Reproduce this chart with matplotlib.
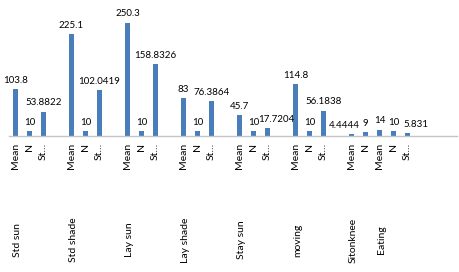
import matplotlib
matplotlib.use("Agg")
import matplotlib.pyplot as plt
import matplotlib.transforms as mtransforms

# ---- data ----
groups = ["Std sun", "Std shade", "Lay sun", "Lay shade", "Stay sun", "moving", "Sitonknee", "Eating"]
group_start = [0, 4, 8, 12, 16, 20, 24, 26]

categories = ["Mean", "N", "St…", "",
              "Mean", "N", "St…", "",
              "Mean", "N", "St…", "",
              "Mean", "N", "St…", "",
              "Mean", "N", "St…", "",
              "Mean", "N", "St…", "",
              "Mean", "N",
              "Mean", "N", "St…", "", "", ""]
values = [103.8, 10, 53.8822, None,
          225.1, 10, 102.0419, None,
          250.3, 10, 158.8326, None,
          83, 10, 76.3864, None,
          45.7, 10, 17.7204, None,
          114.8, 10, 56.1838, None,
          4.4444, 9,
          14, 10, 5.831, None, None, None]

# label x shifts (pixels) to avoid overlap, as in the original
label_shift = {18: 9, 24: -7, 28: 8}

def fmt(v):
    s = "%.4f" % v
    return s.rstrip("0").rstrip(".")

W, H = 459, 272
fig = plt.figure(figsize=(W / 100, H / 100), dpi=100)
ax = fig.add_axes([8.5 / W, 136 / H, 448 / W, 136 / H])

font = ["Lato", "DejaVu Sans"]
fs = 7
fs_tick = 7.5
bar_color = "#4a7ebb"

xs = [i for i, v in enumerate(values) if v is not None]
ys = [v for v in values if v is not None]
ax.bar(xs, ys, width=0.4, color=bar_color, zorder=2)

for x, y in zip(xs, ys):
    dx = label_shift.get(x, 0) * 72 / 100
    ax.annotate(fmt(y), (x, y), xytext=(dx, 3), textcoords="offset points",
                ha="center", va="bottom", fontsize=fs, family=font, color="#000000")

ax.set_xlim(-0.5, len(categories) - 0.5)
ax.set_ylim(0, 300)
for s in ["left", "right", "top"]:
    ax.spines[s].set_visible(False)
ax.spines["bottom"].set_color("#c4c4c4")
ax.spines["bottom"].set_linewidth(1.0)
ax.set_yticks([])
ax.set_xticks(range(len(categories)))
ax.set_xticklabels(categories, rotation=90, fontsize=fs_tick, family=font, color="#000000")
ax.tick_params(axis="x", length=0, pad=5)

trans = mtransforms.blended_transform_factory(ax.transData, ax.transAxes)
for g, st in zip(groups, group_start):
    ax.text(st + 0.15, -0.765, g, rotation=90, ha="center", va="center",
            fontsize=fs_tick, family=font, color="#000000", transform=trans)

fig.savefig("out.png", dpi=100)
